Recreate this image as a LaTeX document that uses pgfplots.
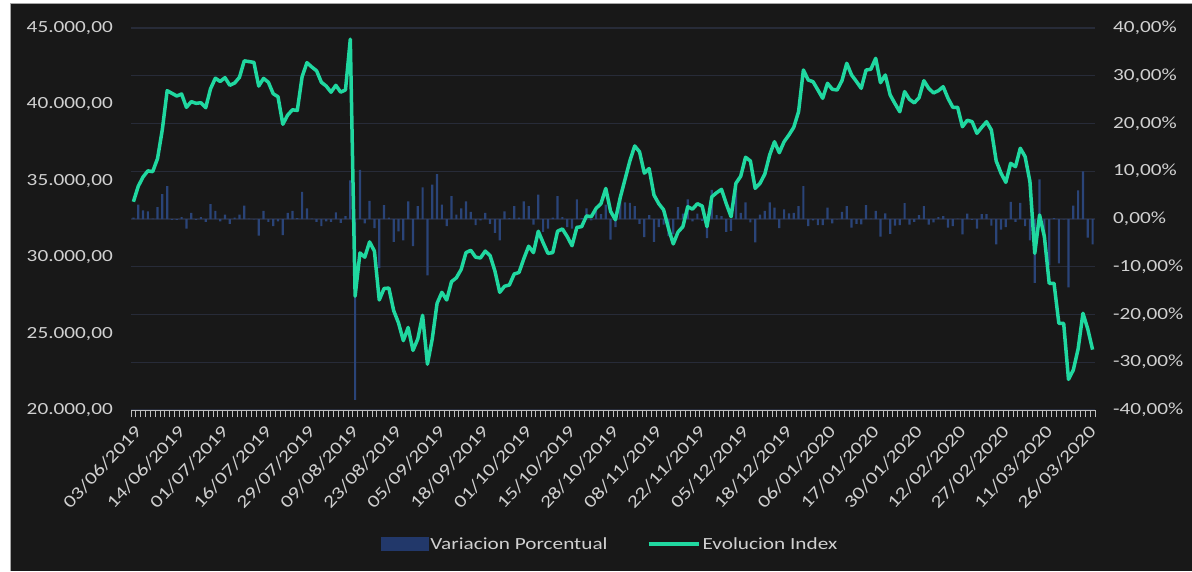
\documentclass[border=0pt]{standalone}
\usepackage{pgfplots}
\pgfplotsset{compat=1.18}
\usepackage{pgfplotstable}
\usepackage{fontspec}
\setmainfont{Carlito}[FakeStretch=1.25]
\definecolor{bg}{HTML}{181818}
\definecolor{gridc}{HTML}{272B38}
\definecolor{labelc}{HTML}{D0D0D0}
\definecolor{linec}{HTML}{20D8A0}
\definecolor{barc}{HTML}{2A4478}
\definecolor{legbar}{HTML}{22386A}
\definecolor{axisc}{HTML}{BFBFBF}
\newcommand{\lbl}{\fontsize{17}{20}\selectfont}
\newcommand{\xlbl}{\fontsize{17.5}{20}\selectfont}
\pgfplotstableread{
i v p
0 33630 0.3
1 34640 3.0
2 35250 1.8
3 35650 1.6
4 35600 0.1
5 36450 2.5
6 38350 5.2
7 40900 6.9
8 40725 -0.2
9 40550 -0.2
10 40680 0.4
11 39810 -2.0
12 40180 1.3
13 40070 -0.2
14 40110 0.4
15 39785 -0.6
16 41018 3.1
17 41715 1.7
18 41500 -0.5
19 41750 0.9
20 41250 -1.0
21 41400 0.3
22 41770 0.9
23 42850 2.8
24 42800 0.1
25 42750 -0.1
26 41200 -3.5
27 41700 1.7
28 41450 -0.6
29 40700 -1.5
30 40500 -0.5
31 38700 -3.4
32 39300 1.3
33 39650 1.7
34 39600 0.2
35 41810 5.7
36 42730 2.2
37 42450 0.1
38 42200 -0.6
39 41450 -1.5
40 41200 -0.5
41 40800 -0.6
42 41250 1.4
43 40800 -0.8
44 40950 0.6
45 44270 8.1
46 27450 -37.9
47 30280 10.3
48 30000 -0.9
49 31000 3.8
50 30400 -1.9
51 27200 -10.3
52 27950 2.9
53 27980 0.3
54 26500 -4.8
55 25700 -2.6
56 24540 -4.5
57 25400 3.7
58 23900 -5.7
59 24650 2.7
60 26200 6.6
61 23000 -11.8
62 24650 7.2
63 26980 9.4
64 27700 3.0
65 27200 -1.5
66 28400 4.8
67 28650 0.9
68 29200 2.2
69 30300 3.7
70 30450 1.5
71 30000 -1.3
72 29950 -0.3
73 30400 1.3
74 30100 -1.0
75 29100 -2.9
76 27700 -4.5
77 28100 1.6
78 28180 0.2
79 28900 2.7
80 29000 0.3
81 29900 3.7
82 30720 2.7
83 30300 -1.2
84 31700 5.1
85 30950 -2.7
86 30250 -2.0
87 30300 0.3
88 31700 4.8
89 31850 0.4
90 31350 -1.7
91 30750 -2.0
92 31950 4.1
93 32000 0.2
94 32700 2.2
95 32650 -0.3
96 33200 1.7
97 33500 1.0
98 34500 3.0
99 33000 -4.3
100 32450 -1.7
101 33900 4.5
102 35100 3.5
103 36300 3.4
104 37280 2.7
105 36900 -1.0
106 35500 -3.8
107 35800 0.8
108 34070 -4.8
109 33500 -1.7
110 33100 -1.2
111 31900 -3.6
112 30870 -3.2
113 31650 2.5
114 32000 1.1
115 33300 4.1
116 33150 -0.5
117 33500 1.1
118 33350 -0.4
119 32000 -4.0
120 33950 6.1
121 34220 0.8
122 34440 0.6
123 33500 -2.7
124 32650 -2.5
125 34835 6.7
126 35300 1.3
127 36540 3.5
128 36300 -0.7
129 34508 -4.9
130 34835 0.9
131 35444 1.7
132 36688 3.5
133 37558 2.4
134 36838 -1.9
135 37558 2.0
136 38000 1.2
137 38500 1.3
138 39522 2.7
139 42251 6.9
140 41597 -1.5
141 41485 -0.3
142 40950 -1.3
143 40398 -1.3
144 41380 2.4
145 40988 -0.9
146 40942 -0.1
147 41550 1.5
148 42690 2.7
149 41924 -1.8
150 41500 -1.0
151 41053 -1.1
152 42250 2.9
153 42300 0.1
154 43017 1.7
155 41420 -3.7
156 41924 1.2
157 40620 -3.1
158 40050 -1.4
159 39522 -1.3
160 40835 3.3
161 40333 -1.2
162 40100 -0.6
163 40440 0.8
164 41550 2.7
165 41050 -1.2
166 40750 -0.7
167 40897 0.4
168 41160 0.6
169 40400 -1.8
170 39810 -1.5
171 39810 0.1
172 38540 -3.2
173 38960 1.1
174 38870 -0.2
175 38108 -2.0
176 38500 1.0
177 38867 1.0
178 38324 -1.4
179 36300 -5.3
180 35500 -2.2
181 34900 -1.7
182 36145 3.6
183 35922 -0.6
184 37130 3.4
185 36580 -1.5
186 34950 -4.5
187 30254 -13.4
188 32760 8.3
189 31340 -4.3
190 28290 -9.7
191 28290 0.2
192 25672 -9.3
193 25672 -0.1
194 22007 -14.3
195 22616 2.8
196 24000 6.0
197 26330 10.0
198 25300 -3.9
199 23950 -5.3
}\data
\begin{document}
\begin{tikzpicture}
\path[use as bounding box] (0,0) rectangle (1192pt,571pt);
\fill[white] (0,0) rectangle (1192pt,571pt);
\fill[bg] (10pt,0) rectangle (1192pt,568pt);
\draw[gray!70, line width=0.8pt] (10pt,0) -- (10pt,568pt) -- (1192pt,568pt);
% bars on the right axis
\begin{axis}[
  at={(131pt,161pt)}, anchor=south west, scale only axis,
  width=964pt, height=382pt,
  xmin=-0.5, xmax=199.5, ymin=-40, ymax=40,
  axis x line=none, axis y line*=right,
  y axis line style={draw=none},
  ytick={-40,-30,-20,-10,0,10,20,30,40},
  yticklabels={{-40,00\%},{-30,00\%},{-20,00\%},{-10,00\%},{0,00\%},{10,00\%},{20,00\%},{30,00\%},{40,00\%}},
  ymajorgrids, grid style={gridc, line width=1.2pt},
  major tick length=0pt,
  yticklabel style={font=\lbl, text=labelc, anchor=west, inner sep=0pt, xshift=18pt},
]
\addplot[ybar, bar width=2.2pt, fill=barc, draw=none] table[x=i, y=p]{\data};
\end{axis}
% line on the left axis
\begin{axis}[
  at={(131pt,161pt)}, anchor=south west, scale only axis,
  width=964pt, height=382pt,
  xmin=-0.5, xmax=199.5, ymin=20000, ymax=45000,
  scaled y ticks=false,
  axis y line*=left, axis x line*=bottom,
  y axis line style={draw=none},
  x axis line style={draw=axisc, line width=1pt, -},
  ytick={20000,25000,30000,35000,40000,45000},
  yticklabels={{20.000,00},{25.000,00},{30.000,00},{35.000,00},{40.000,00},{45.000,00}},
  xtick={0,9,...,198},
  xticklabels={03/06/2019,14/06/2019,01/07/2019,16/07/2019,29/07/2019,09/08/2019,23/08/2019,05/09/2019,18/09/2019,01/10/2019,15/10/2019,28/10/2019,08/11/2019,22/11/2019,05/12/2019,18/12/2019,06/01/2020,17/01/2020,30/01/2020,12/02/2020,27/02/2020,11/03/2020,26/03/2020},
  minor xtick={-0.5,0.5,...,199.5},
  major tick length=0pt, minor tick length=7pt,
  tick align=outside,
  minor tick style={axisc, line width=0.8pt},
  yticklabel style={font=\lbl, text=labelc, anchor=east, inner sep=0pt, xshift=-18pt},
  xticklabel style={font=\xlbl, text=labelc, inner sep=0pt, xshift=5pt, yshift=-18pt, rotate=47, anchor=east},
  legend style={at={(0.497,-0.351)}, anchor=center, draw=none, fill=none,
    text=labelc, font=\lbl, legend columns=2,
    /tikz/every even column/.append style={column sep=37pt}},
]
\addlegendimage{legend image code/.code={\fill[legbar] (0pt,-6.5pt) rectangle (47pt,6.5pt);}}
\addlegendentry{Variacion Porcentual}
\addplot[linec, line width=3.5pt, line join=round,
  legend image code/.code={\draw[linec, line width=4pt] (0pt,0pt) -- (50pt,0pt);}]
  table[x=i, y=v]{\data};
\addlegendentry{Evolucion Index}
\end{axis}
\end{tikzpicture}
\end{document}
